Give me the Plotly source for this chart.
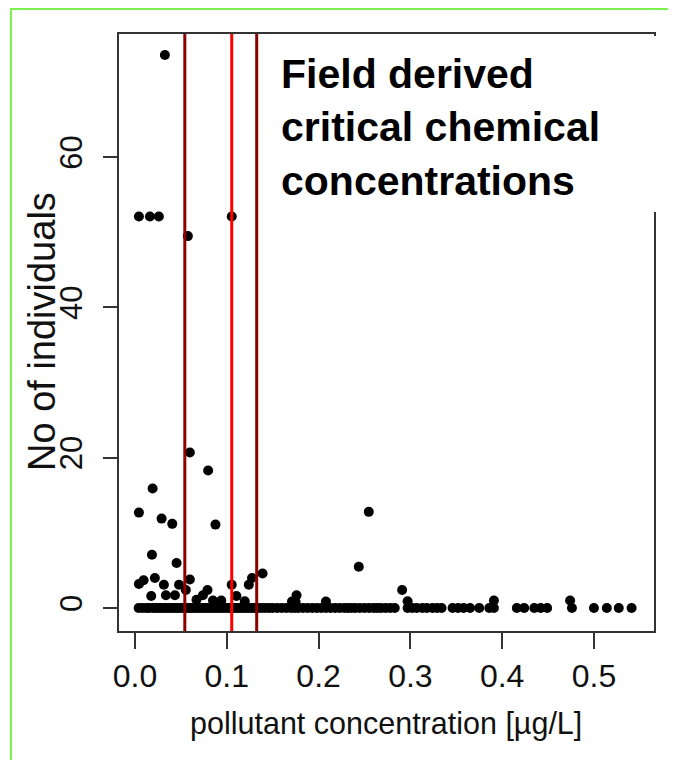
import plotly.graph_objects as go

# ---------------- data ----------------
# points with non-zero counts (concentration, count)
conc_pos = [0.0326, 0.0043, 0.0163, 0.0260, 0.0576, 0.1054, 0.0598, 0.0797,
            0.0192, 0.0043, 0.0290, 0.0406, 0.0877, 0.0185, 0.0453, 0.1390,
            0.1275, 0.1240, 0.0598, 0.0217, 0.0094, 0.0043, 0.0315, 0.0480,
            0.1054, 0.0177, 0.0337, 0.0435, 0.0554, 0.0790, 0.0740, 0.1105,
            0.1196, 0.0940, 0.0670, 0.0850, 0.1760, 0.1750, 0.1710, 0.2080,
            0.2547, 0.2438, 0.2910, 0.2970, 0.3910, 0.4740]
count_pos = [73.6, 52.1, 52.1, 52.1, 49.5, 52.1, 20.7, 18.3,
             15.9, 12.7, 11.9, 11.2, 11.1, 7.1, 6.0, 4.6,
             4.0, 3.1, 3.8, 4.0, 3.7, 3.2, 3.1, 3.1,
             3.1, 1.6, 1.7, 1.7, 2.4, 2.4, 1.7, 1.6,
             0.9, 1.0, 1.1, 1.0, 1.7, 0.8, 0.85, 0.85,
             12.8, 5.5, 2.4, 0.9, 1.0, 1.0]

# sites where no individuals were found
conc_zero = [0.004, 0.008, 0.012, 0.015, 0.019, 0.022, 0.025, 0.028, 0.031, 0.034,
             0.037, 0.040, 0.043, 0.046, 0.049, 0.052, 0.055, 0.058, 0.061, 0.064,
             0.067, 0.070, 0.073, 0.076, 0.079, 0.082, 0.085, 0.088, 0.091, 0.094,
             0.097, 0.100, 0.103, 0.106, 0.109, 0.112, 0.115, 0.118, 0.121, 0.124,
             0.127, 0.130, 0.134, 0.138, 0.142, 0.146, 0.150, 0.155, 0.160, 0.165,
             0.170, 0.174, 0.178, 0.183, 0.188, 0.193, 0.198, 0.203, 0.208, 0.213,
             0.218, 0.223, 0.228, 0.232, 0.236, 0.240, 0.245, 0.250, 0.255, 0.260,
             0.264, 0.268, 0.273, 0.278, 0.283, 0.297, 0.302, 0.307, 0.313, 0.318,
             0.324, 0.329, 0.334, 0.346, 0.352, 0.358, 0.365, 0.375, 0.386, 0.391,
             0.416, 0.424, 0.435, 0.442, 0.449, 0.476, 0.500, 0.514, 0.527, 0.541]
count_zero = [0] * len(conc_zero)

# critical concentrations (vertical lines)
crit_conc = [0.0543, 0.1054, 0.1326]
crit_colors = ["#8b0000", "#ff0000", "#8b0000"]

x_ticks = [0.0, 0.1, 0.2, 0.3, 0.4, 0.5]
x_ticklabels = ["0.0", "0.1", "0.2", "0.3", "0.4", "0.5"]
y_ticks = [0, 20, 40, 60]
y_ticklabels = ["0", "20", "40", "60"]

title_text = "Field derived<br>critical chemical<br>concentrations"
x_title = "pollutant concentration [µg/L]"
y_title = "No of individuals"

# ---------------- layout geometry ----------------
OFF = 8                      # page body margin of the html
W, H = 676 - OFF, 760 - OFF  # figure size
# plot area in page pixels
PL, PR, PT, PB = 119, 654, 34, 631
L, R, T, B = PL - OFF, PR - OFF, PT - OFF, PB - OFF


def px(xp):
    """page x pixel -> paper fraction"""
    return (xp - PL) / (PR - PL)


def py(yp):
    """page y pixel -> paper fraction"""
    return (PB - yp) / (PB - PT)


SANS = "Liberation Sans, Arial, Helvetica, sans-serif"

fig = go.Figure()
fig.add_trace(go.Scatter(x=conc_zero + conc_pos, y=count_zero + count_pos,
                         mode="markers",
                         marker=dict(color="black", size=10, line=dict(width=0)),
                         showlegend=False, hoverinfo="x+y"))

shapes = []
for c, col in zip(crit_conc, crit_colors):
    shapes.append(dict(type="line", xref="x", yref="paper", x0=c, x1=c, y0=0, y1=1,
                       line=dict(color=col, width=3), layer="above"))
# white box behind the title (covers part of the frame)
shapes.append(dict(type="rect", xref="paper", yref="paper",
                   x0=px(266), x1=px(664), y0=py(212), y1=py(36),
                   fillcolor="white", line=dict(width=0), layer="above"))
# green slide border
shapes.append(dict(type="line", xref="paper", yref="paper",
                   x0=px(10), x1=px(676), y0=py(9), y1=py(9),
                   line=dict(color="#7cf24f", width=2), layer="above"))
shapes.append(dict(type="line", xref="paper", yref="paper",
                   x0=px(11), x1=px(11), y0=py(9), y1=py(760),
                   line=dict(color="#7cf24f", width=2), layer="above"))

annotations = [
    dict(text=title_text, xref="paper", yref="paper", x=px(279), y=py(49),
         xanchor="left", yanchor="top", align="left", showarrow=False,
         font=dict(family=SANS, size=41, color="black", weight="bold")),
    dict(text=x_title, xref="paper", yref="paper", x=px(386), y=py(724),
         xanchor="center", yanchor="middle", showarrow=False,
         font=dict(family=SANS, size=30.5, color="#111")),
    dict(text=y_title, xref="paper", yref="paper", x=px(42), y=py(332),
         xanchor="center", yanchor="middle", showarrow=False, textangle=-90,
         font=dict(family=SANS, size=38, color="#111")),
]

fig.update_layout(
    width=W, height=H,
    margin=dict(l=L, r=W - R, t=T, b=H - B, pad=0, autoexpand=False),
    paper_bgcolor="white", plot_bgcolor="white",
    shapes=shapes, annotations=annotations,
    xaxis=dict(range=[-0.0174, 0.5654], tickvals=x_ticks, ticktext=x_ticklabels,
               showgrid=False, zeroline=False, showline=True, mirror=True,
               linecolor="#333", linewidth=1.5, ticks="outside", ticklen=16,
               tickwidth=1.5, tickcolor="#333", automargin=False,
               tickfont=dict(family=SANS, size=32, color="#111")),
    yaxis=dict(range=[-3.06, 76.4], tickvals=y_ticks, ticktext=y_ticklabels,
               showgrid=False, zeroline=False, showline=True, mirror=True,
               linecolor="#333", linewidth=1.5, ticks="outside", ticklen=14,
               tickwidth=1.5, tickcolor="#333", tickangle=-90,
               ticklabelstandoff=9, automargin=False,
               tickfont=dict(family=SANS, size=31, color="#111")),
)

fig.write_html("out.html")
